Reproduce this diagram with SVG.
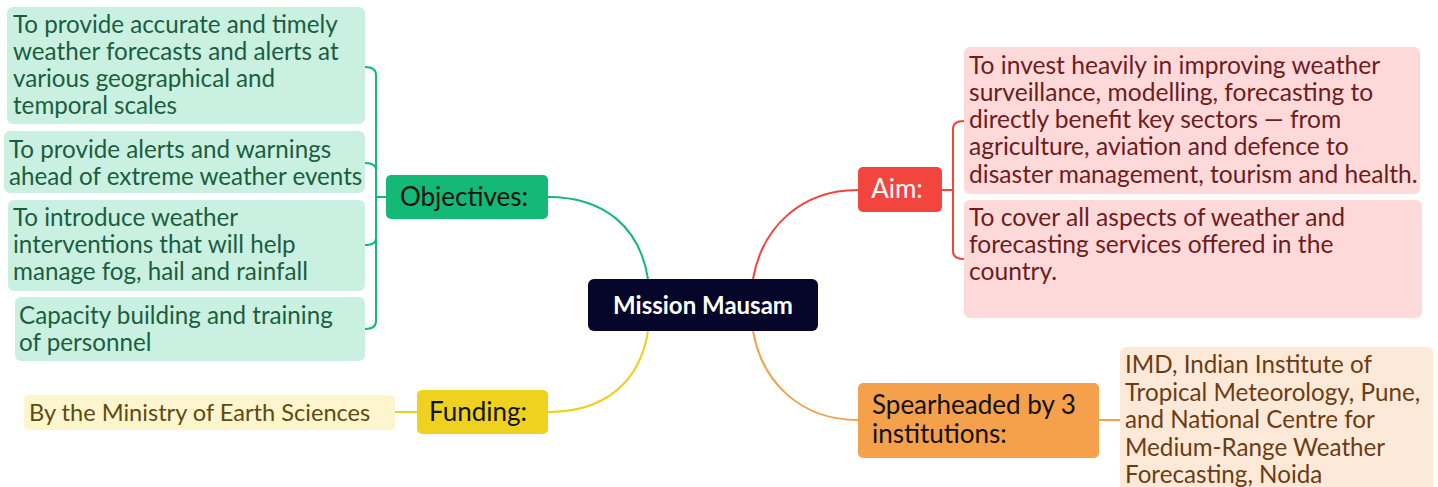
<svg xmlns="http://www.w3.org/2000/svg" width="1438" height="487" viewBox="0 0 1438 487">
<style>
text{font-family:Lato,"Open Sans","Liberation Sans",sans-serif;font-size:24px}
.n{font-size:26px;fill:#111}
.c{fill:none;stroke-width:2}
.g{stroke:#14b877}.y{stroke:#ecd21c}.r{stroke:#f2453d}.o{stroke:#f2a24e}
.lg{fill:#caf0e1}.tg{fill:#1a5e40;font-size:24.2px}
.lr{fill:#fdd9da}.tr{fill:#6e1c1c;font-size:24.6px}
.lo{fill:#fde9d8}.to{fill:#6b3d14;font-size:24.2px}
.ly{fill:#fdf5cd}.ty{fill:#5c4c12;font-size:23.6px}
</style>
<g id="connectors">
<path class="c g" d="M648 279 C640 228 605 197 548 197"/>
<path class="c y" d="M648 331 C640 382 605 412 548 412"/>
<path class="c r" d="M753 279 C762 228 800 190 858 190"/>
<path class="c o" d="M753 331 C762 382 800 420 858 420"/>
<path class="c g" d="M386 197 H376 M365 67 Q376 67 376 75 V321 Q376 329 365 329 M365 163 Q376 163 376 170 M365 245 Q376 245 376 238"/>
<path class="c y" d="M395 412 H417"/>
<path class="c r" d="M942 190 H953 M964 121 Q953 121 953 129 V251 Q953 259 964 259"/>
<path class="c o" d="M1099 420 H1120"/>
</g>
<g id="center">
<rect x="588" y="279" width="230" height="52" rx="6" fill="#06062b"/>
<text x="703" y="314" text-anchor="middle" fill="#fff" font-weight="bold" font-size="25">Mission Mausam</text>
</g>
<g id="objectives">
<rect x="386" y="175" width="162" height="44" rx="5" fill="#14b877"/>
<text class="n" x="464" y="206" text-anchor="middle">Objectives:</text>
</g>
<g id="funding">
<rect x="417" y="390" width="131" height="44" rx="5" fill="#efd11f"/>
<text class="n" x="478" y="421" text-anchor="middle">Funding:</text>
</g>
<g id="aim">
<rect x="858" y="167" width="84" height="45" rx="5" fill="#f2453d"/>
<text class="n" x="897" y="198" text-anchor="middle" style="fill:#fff">Aim:</text>
</g>
<g id="spearheaded">
<rect x="858" y="383" width="241" height="75" rx="5" fill="#f5a04b"/>
<text class="n" x="872" y="414">Spearheaded by 3</text>
<text class="n" x="872" y="443">institutions:</text>
</g>
<g id="obj1">
<rect class="lg" x="7" y="7" width="358" height="117" rx="6"/>
<text class="tg" x="13" y="33">To provide accurate and timely</text>
<text class="tg" x="13" y="60">weather forecasts and alerts at</text>
<text class="tg" x="13" y="87">various geographical and</text>
<text class="tg" x="13" y="114">temporal scales</text>
</g>
<g id="obj2">
<rect class="lg" x="4" y="131" width="361" height="62" rx="6"/>
<text class="tg" x="9" y="158">To provide alerts and warnings</text>
<text class="tg" x="9" y="185">ahead of extreme weather events</text>
</g>
<g id="obj3">
<rect class="lg" x="8" y="200" width="357" height="91" rx="6"/>
<text class="tg" x="13" y="226">To introduce weather</text>
<text class="tg" x="13" y="253">interventions that will help</text>
<text class="tg" x="13" y="280">manage fog, hail and rainfall</text>
</g>
<g id="obj4">
<rect class="lg" x="15" y="297" width="350" height="64" rx="6"/>
<text class="tg" x="19" y="324">Capacity building and training</text>
<text class="tg" x="19" y="351">of personnel</text>
</g>
<g id="fund1">
<rect class="ly" x="24" y="395" width="371" height="35" rx="5"/>
<text class="ty" x="29" y="421">By the Ministry of Earth Sciences</text>
</g>
<g id="aim1">
<rect class="lr" x="964" y="47" width="456" height="147" rx="6"/>
<text class="tr" x="969" y="74">To invest heavily in improving weather</text>
<text class="tr" x="969" y="101">surveillance, modelling, forecasting to</text>
<text class="tr" x="969" y="128">directly benefit key sectors — from</text>
<text class="tr" x="969" y="155">agriculture, aviation and defence to</text>
<text class="tr" x="969" y="183">disaster management, tourism and health.</text>
</g>
<g id="aim2">
<rect class="lr" x="964" y="200" width="458" height="118" rx="6"/>
<text class="tr" x="969" y="226">To cover all aspects of weather and</text>
<text class="tr" x="969" y="253">forecasting services offered in the</text>
<text class="tr" x="969" y="280">country.</text>
</g>
<g id="spear1">
<rect class="lo" x="1120" y="347" width="313" height="150" rx="6"/>
<text class="to" x="1125" y="373">IMD, Indian Institute of</text>
<text class="to" x="1125" y="401">Tropical Meteorology, Pune,</text>
<text class="to" x="1125" y="428">and National Centre for</text>
<text class="to" x="1125" y="456">Medium-Range Weather</text>
<text class="to" x="1125" y="483">Forecasting, Noida</text>
</g>
</svg>
